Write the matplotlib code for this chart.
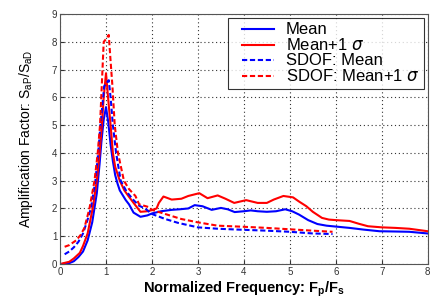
import matplotlib
matplotlib.use("Agg")
import matplotlib.pyplot as plt
from matplotlib.legend_handler import HandlerLine2D

plt.rcParams['font.family'] = ['Liberation Sans', 'DejaVu Sans']

# Mean (blue solid)
mean_x = [0.05, 0.2, 0.3, 0.4, 0.5, 0.6, 0.7, 0.8, 0.86, 0.9, 0.95, 1.0, 1.05, 1.1, 1.15, 1.2, 1.25,
          1.3, 1.43, 1.5, 1.6, 1.75, 1.9, 2.0, 2.2, 2.43, 2.6, 2.79, 2.93, 3.1, 3.3, 3.5, 3.65, 3.8,
          4.0, 4.15, 4.3, 4.5, 4.7, 4.9, 5.05, 5.2, 5.4, 5.6, 5.8, 6.05, 6.3, 6.6, 6.95, 7.3, 7.6, 8.0]
mean_y = [0.0, 0.03, 0.1, 0.25, 0.45, 0.85, 1.5, 2.55, 3.6, 4.4, 5.2, 5.65, 5.1, 4.3, 3.7, 3.2, 2.9,
          2.65, 2.3, 2.15, 1.85, 1.7, 1.75, 1.82, 1.9, 1.95, 1.97, 2.0, 2.12, 2.08, 1.95, 2.02, 1.97, 1.87,
          1.9, 1.93, 1.9, 1.88, 1.9, 1.97, 1.9, 1.78, 1.58, 1.44, 1.38, 1.34, 1.3, 1.24, 1.18, 1.17, 1.16, 1.1]

# Mean+1 sigma (red solid)
p1_x = [0.05, 0.2, 0.3, 0.43, 0.5, 0.6, 0.71, 0.8, 0.86, 0.91, 0.95, 1.0, 1.05, 1.1, 1.15, 1.2,
        1.3, 1.4, 1.5, 1.6, 1.75, 1.9, 2.0, 2.1, 2.15, 2.25, 2.43, 2.64, 2.79, 3.03, 3.21, 3.43, 3.6,
        3.79, 4.05, 4.3, 4.5, 4.65, 4.86, 5.07, 5.2, 5.36, 5.5, 5.7, 5.85, 6.0, 6.3, 6.5, 6.7, 7.0,
        7.3, 7.6, 8.0]
p1_y = [0.02, 0.08, 0.2, 0.4, 0.65, 1.1, 2.0, 3.0, 4.0, 5.0, 6.0, 6.87, 5.9, 5.0, 4.0, 3.5,
        3.0, 2.65, 2.42, 2.2, 1.88, 1.9, 1.94, 2.0, 2.2, 2.43, 2.32, 2.35, 2.45, 2.55, 2.37, 2.47, 2.35,
        2.2, 2.3, 2.2, 2.2, 2.32, 2.45, 2.4, 2.25, 2.08, 1.88, 1.66, 1.6, 1.58, 1.55, 1.45, 1.36, 1.32,
        1.3, 1.27, 1.18]

# SDOF: Mean (blue dashed)
sm_x = [0.1, 0.2, 0.3, 0.4, 0.5, 0.6, 0.67, 0.77, 0.83, 0.88, 0.96, 1.06, 1.1, 1.15, 1.22, 1.32,
        1.45, 1.6, 1.72, 1.85, 2.0, 2.29, 2.57, 3.0, 3.43, 3.86, 4.5, 5.0, 5.5, 5.93]
sm_y = [0.35, 0.45, 0.6, 0.8, 1.1, 1.6, 2.0, 3.0, 4.0, 5.0, 6.4, 6.62, 6.0, 5.0, 4.0, 3.0,
        2.6, 2.3, 2.1, 2.0, 1.8, 1.62, 1.48, 1.32, 1.27, 1.24, 1.2, 1.16, 1.1, 1.08]

# SDOF: Mean+1 sigma (red dashed)
sp_x = [0.1, 0.2, 0.35, 0.45, 0.53, 0.64, 0.75, 0.82, 0.87, 0.91, 0.95, 1.0, 1.06, 1.1, 1.14, 1.19,
        1.26, 1.39, 1.5, 1.64, 1.72, 1.93, 2.0, 2.29, 2.64, 3.0, 3.43, 4.0, 4.5, 5.0, 5.5, 5.93]
sp_y = [0.62, 0.68, 0.85, 1.05, 1.3, 2.0, 3.0, 4.0, 5.0, 6.5, 8.0, 8.1, 8.25, 7.3, 6.4, 5.0,
        4.0, 3.0, 2.7, 2.45, 2.15, 2.05, 1.95, 1.8, 1.62, 1.5, 1.38, 1.34, 1.3, 1.25, 1.2, 1.16]

x_ticks = [0, 1, 2, 3, 4, 5, 6, 7, 8]
y_ticks = [0, 1, 2, 3, 4, 5, 6, 7, 8, 9]
labels = ['Mean', r'Mean+1 $\sigma$', 'SDOF: Mean', r'SDOF: Mean+1 $\sigma$']

fig = plt.figure(figsize=(4.32, 3.0), dpi=100)
ax = fig.add_axes([0.139, 0.12, 0.851, 0.833])

lw = 1.5
ax.plot(mean_x, mean_y, color='#0000FF', lw=lw, label=labels[0])
ax.plot(p1_x, p1_y, color='#FF0000', lw=lw, label=labels[1])
ax.plot(sm_x, sm_y, color='#0000FF', lw=lw, dashes=(2.5, 1.3), label=labels[2])
ax.plot(sp_x, sp_y, color='#FF0000', lw=lw, dashes=(2.5, 1.3), label=labels[3])

ax.set_xlim(0, 8)
ax.set_ylim(0, 9)
ax.set_xticks(x_ticks)
ax.set_yticks(y_ticks)
ax.tick_params(direction='in', length=3, labelsize=7, colors='#333333', pad=2)
ax.grid(True, color='#333333', linewidth=0.8, dashes=(1, 2.5))
for s in ax.spines.values():
    s.set_color('#555555')
    s.set_linewidth(0.8)

ax.set_xlabel(r'Normalized Frequency: F$_\mathregular{p}$/F$_\mathregular{s}$', fontsize=10.5, fontweight='bold', labelpad=2)
ax.set_ylabel(r'Amplification Factor: S$_\mathregular{aP}$/S$_\mathregular{aD}$', fontsize=10, labelpad=12)

leg = ax.legend(loc='upper right', frameon=True, fancybox=False,
                edgecolor='black', borderaxespad=0.25, handlelength=2.5, labelspacing=0.0,
                borderpad=0.25, handletextpad=0.7, prop={'size': 12},
                handler_map={matplotlib.lines.Line2D: HandlerLine2D(xpad=0.6)})
leg.get_frame().set_linewidth(0.8)

fig.savefig('out.png', dpi=100)
